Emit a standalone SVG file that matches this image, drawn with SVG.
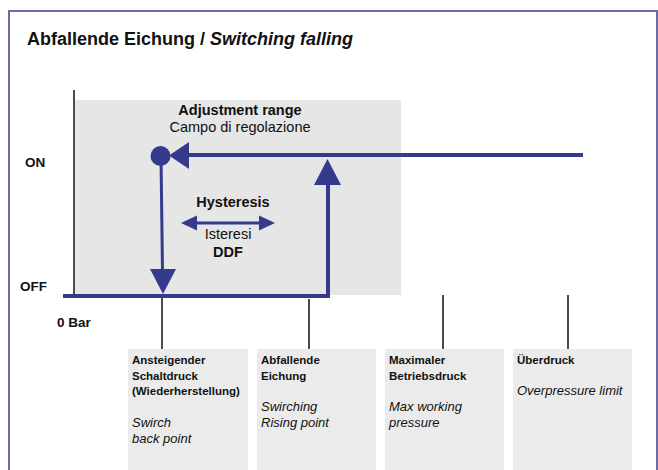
<svg xmlns="http://www.w3.org/2000/svg" width="658" height="470" viewBox="0 0 658 470">
<defs>
<style>
text{font-family:"Liberation Sans",Arial,sans-serif;fill:#111}
.b{font-weight:bold}
.i{font-style:italic}
.t{font-size:18px;font-weight:bold}
.m{font-size:14.5px}
.s{font-size:13.5px;font-weight:bold}
.bx{font-size:11.5px;font-weight:bold}
.it{font-size:13px;font-style:italic}
.blue{stroke:#343a8c;fill:none}
.hd{fill:#343a8c}
.tick{stroke:#111;stroke-width:1.5}
.box{fill:#ebebeb}
</style>
</defs>
<rect x="0" y="0" width="658" height="470" fill="#fff"/>
<path d="M9,470 V11 H657 V470" fill="none" stroke="#6b6ba5" stroke-width="2"/>
<text x="27" y="45" class="t">Abfallende Eichung / <tspan class="i">Switching falling</tspan></text>

<g id="range">
<rect x="75" y="100" width="326" height="195" fill="#e6e6e6"/>
<text x="240" y="115" class="m b" text-anchor="middle">Adjustment range</text>
<text x="240" y="132" class="m" text-anchor="middle">Campo di regolazione</text>
</g>
<g id="axis">
<line x1="74" y1="90" x2="74" y2="296" stroke="#111" stroke-width="1.5"/>
<text x="25" y="167" class="s">ON</text>
<text x="20" y="291" class="s">OFF</text>
<text x="57" y="327" class="s">0 Bar</text>
</g>
<g id="hysteresis">
<text x="233" y="207" class="m b" text-anchor="middle">Hysteresis</text>
<text x="228" y="239" class="m" text-anchor="middle">Isteresi</text>
<text x="228" y="257" class="m b" text-anchor="middle">DDF</text>
</g>

<g id="connectors">
<line x1="188" y1="155" x2="583" y2="155" class="blue" stroke-width="4"/>
<polygon points="169,155.5 189,142 189,169" class="hd"/>
<circle cx="160.5" cy="156" r="10" class="hd"/>
<line x1="161" y1="156" x2="162.5" y2="272" class="blue" stroke-width="3"/>
<polygon points="150,269 176,269 163,294" class="hd"/>
<polyline points="63,296 328,296 328,183" class="blue" stroke-width="4"/>
<polygon points="314,185 341,185 327.5,159" class="hd"/>
<line x1="195" y1="223" x2="262" y2="223" class="blue" stroke-width="3"/>
<polygon points="181,223 197,215.5 197,230.5" class="hd"/>
<polygon points="275,223 259,215.5 259,230.5" class="hd"/>
<line x1="162" y1="298" x2="162" y2="349" class="tick"/>
<line x1="309" y1="299" x2="309" y2="349" class="tick"/>
<line x1="443" y1="295" x2="443" y2="349" class="tick"/>
<line x1="568" y1="295" x2="568" y2="349" class="tick"/>
</g>

<g id="box1">
<rect x="128" y="349" width="120" height="121" class="box"/>
<text x="132" y="364" class="bx">Ansteigender</text>
<text x="132" y="380" class="bx">Schaltdruck</text>
<text x="132" y="395" class="bx">(Wiederherstellung)</text>
<text x="132" y="427" class="it">Swirch</text>
<text x="132" y="443" class="it">back point</text>
</g>
<g id="box2">
<rect x="257" y="349" width="119" height="121" class="box"/>
<text x="261" y="364" class="bx">Abfallende</text>
<text x="261" y="380" class="bx">Eichung</text>
<text x="261" y="411" class="it">Swirching</text>
<text x="261" y="427" class="it">Rising point</text>
</g>
<g id="box3">
<rect x="385" y="349" width="119" height="121" class="box"/>
<text x="389" y="364" class="bx">Maximaler</text>
<text x="389" y="380" class="bx">Betriebsdruck</text>
<text x="389" y="411" class="it">Max working</text>
<text x="389" y="427" class="it">pressure</text>
</g>
<g id="box4">
<rect x="513" y="349" width="119" height="121" class="box"/>
<text x="517" y="364" class="bx">Überdruck</text>
<text x="517" y="395" class="it">Overpressure limit</text>
</g>
</svg>
